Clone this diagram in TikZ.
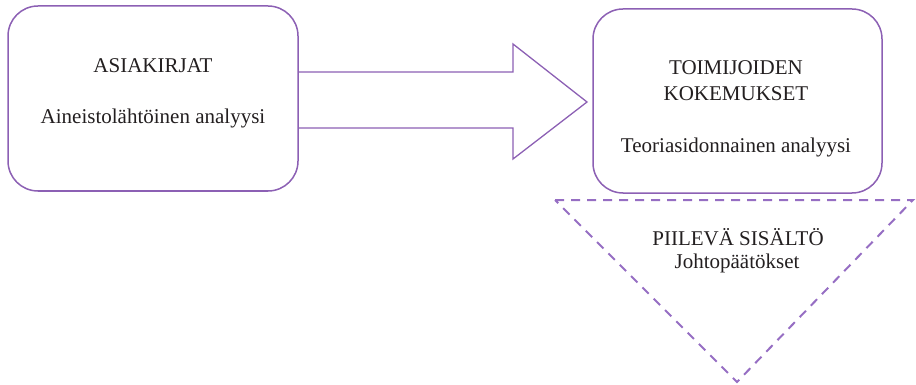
\documentclass[tikz,border=0pt]{standalone}
\usepackage{fontspec}
\setmainfont{Liberation Serif}
\usetikzlibrary{positioning}
\definecolor{boxpurple}{RGB}{140,96,180}
\definecolor{dashpurple}{RGB}{150,110,195}
\definecolor{txt}{RGB}{35,31,32}
\tikzset{
  rbox/.style={draw=boxpurple, line width=1.5pt, rounded corners=30pt, fill=white},
  lbl/.style={text=txt, font=\fontsize{21}{26}\selectfont, align=center, inner sep=0pt},
  bigarrow/.style={draw=boxpurple, line width=1.3pt, line join=miter},
  tri/.style={draw=dashpurple, line width=2pt, dash pattern=on 9pt off 7pt}
}
\begin{document}
\begin{tikzpicture}[x=1pt,y=-1pt]
\useasboundingbox (0,0) rectangle (916,385);
% left box
\draw[rbox] (8,6) rectangle (298,191);
\node[lbl] (asia) at (153,66) {ASIAKIRJAT};
\node[lbl] (aine) at (153,118) {Aineistolähtöinen analyysi};
% right box
\draw[rbox] (593,9) rectangle (882,193);
\node[lbl] (toim) at (736,81) {TOIMIJOIDEN\\KOKEMUKSET};
\node[lbl] (teor) at (736,147) {Teoriasidonnainen analyysi};
% arrow
\coordinate (a1) at (298,72);
\coordinate (a2) at (513,72);
\coordinate (a3) at (513,44);
\coordinate (tip) at (587,102);
\coordinate (a5) at (513,159);
\coordinate (a6) at (513,128);
\coordinate (a7) at (298,128);
\draw[bigarrow] (a1) -- (a2) -- (a3) -- (tip) -- (a5) -- (a6) -- (a7);
% triangle
\coordinate (tl) at (555,200);
\coordinate (tr) at (913,200);
\coordinate (bot) at (737,382);
\draw[tri] (tl) -- (tr) -- (bot) -- cycle;
\node[lbl] (piil) at (738,237) {PIILEVÄ SISÄLTÖ};
\node[lbl] (joht) at (737,263) {Johtopäätökset};
\end{tikzpicture}
\end{document}
